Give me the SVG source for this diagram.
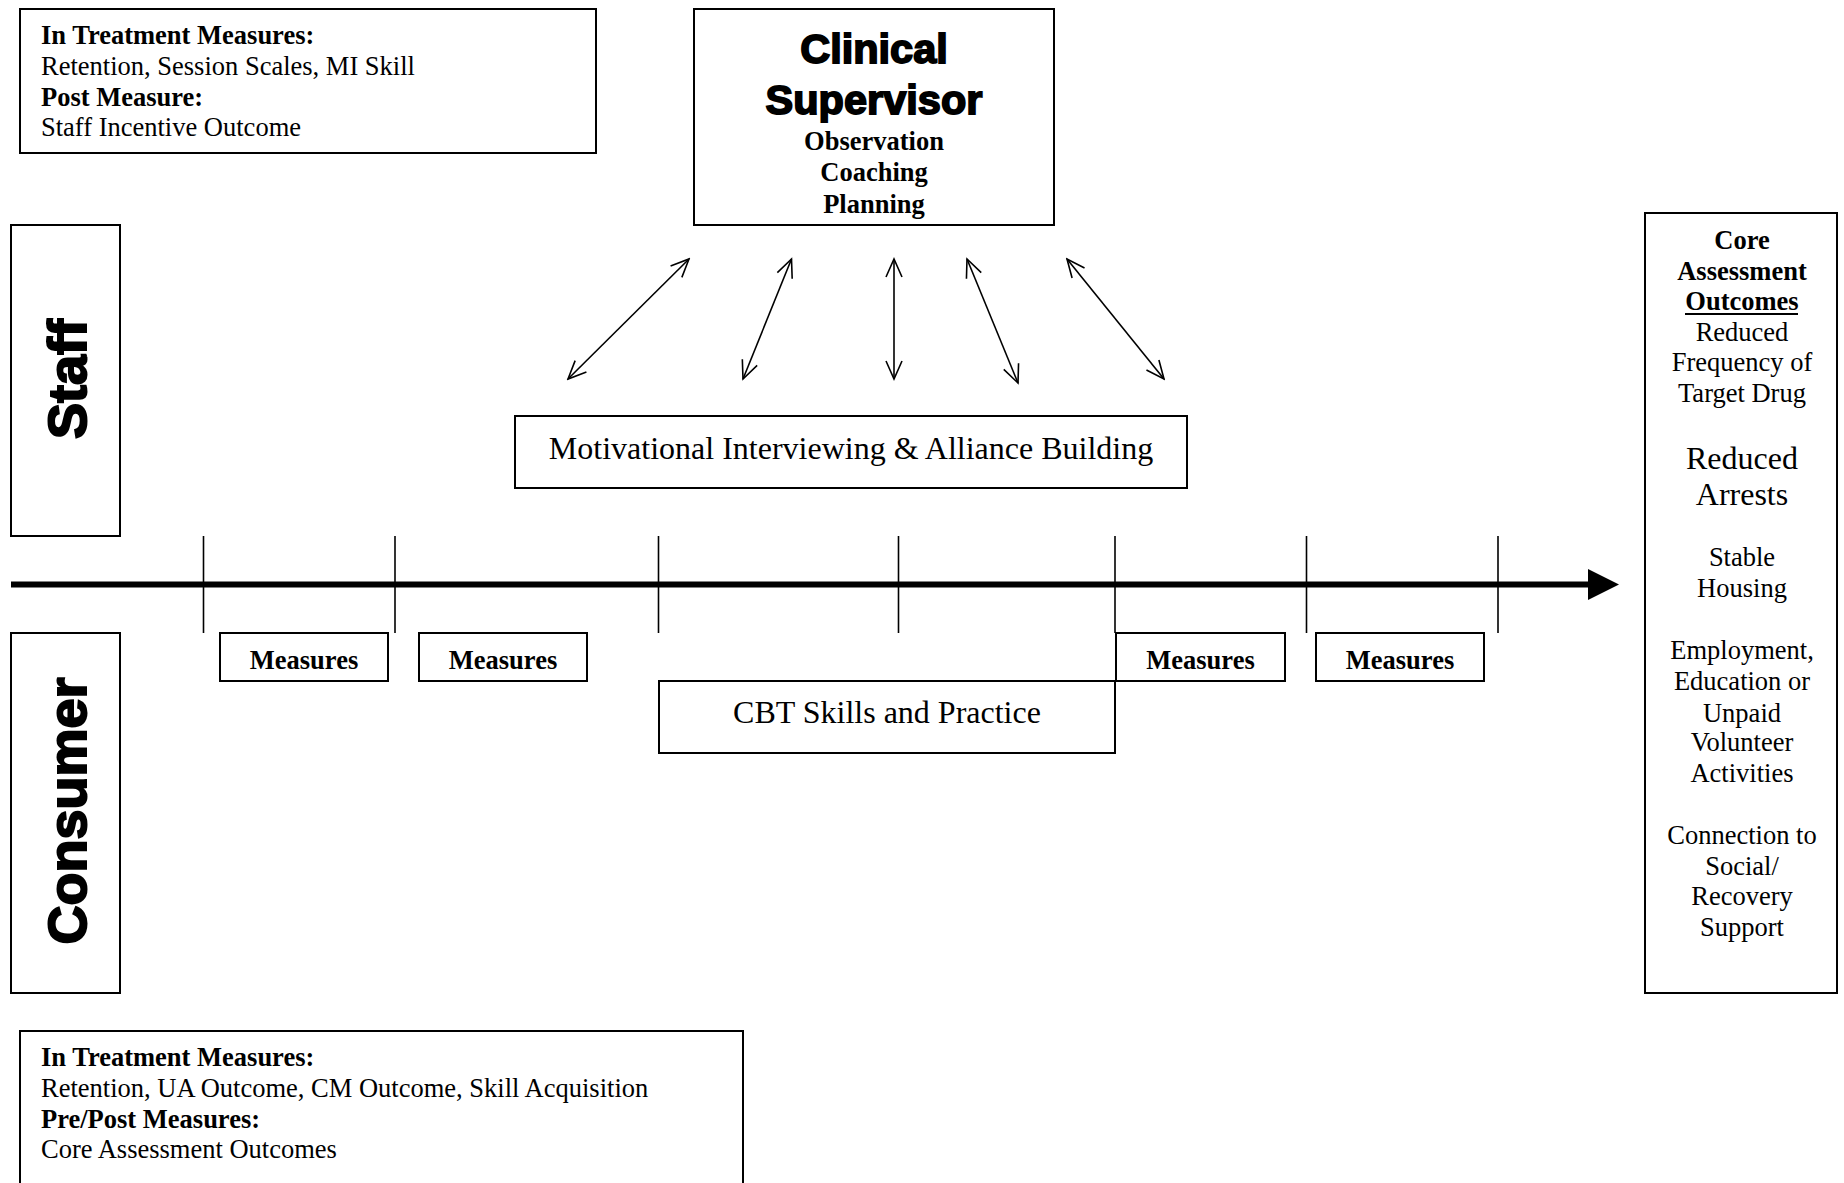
<svg xmlns="http://www.w3.org/2000/svg" width="1844" height="1183" viewBox="0 0 1844 1183">
<style>
.box{fill:#fff;stroke:#000;stroke-width:2}
.t{font-family:"Liberation Serif","Times New Roman",serif;fill:#000}
.r26{font-size:26.5px}
.b26{font-size:26.5px;font-weight:bold}
.r32{font-size:32px}
.blk{font-family:"Liberation Sans",Arial,sans-serif;font-weight:bold;fill:#000;stroke:#000}
.tick{stroke:#000;stroke-width:1.6}
.dbl{stroke:#000;stroke-width:1.6;fill:none;marker-start:url(#v);marker-end:url(#v)}
</style>
<defs>
<marker id="v" markerUnits="userSpaceOnUse" viewBox="-20 -10 22 20" refX="0" refY="0" markerWidth="22" markerHeight="20" orient="auto-start-reverse">
<path d="M-18,-8 L0,0 L-18,8" fill="none" stroke="#000" stroke-width="1.6"/>
</marker>
<clipPath id="csclip"><rect x="694" y="9" width="360" height="216"/></clipPath>
</defs>
<rect width="1844" height="1183" fill="#fff"/>

<g id="staff-measures">
<rect class="box" x="20" y="9" width="576" height="144"/>
<text class="t b26" x="41" y="44">In Treatment Measures:</text>
<text class="t r26" x="41" y="75">Retention, Session Scales, MI Skill</text>
<text class="t b26" x="41" y="105.5">Post Measure:</text>
<text class="t r26" x="41" y="136">Staff Incentive Outcome</text>
</g>

<g id="clinical-supervisor">
<rect class="box" x="694" y="9" width="360" height="216"/>
<g clip-path="url(#csclip)" text-anchor="middle">
<text class="blk" x="874" y="63" font-size="41.5" stroke-width="1.8">Clinical</text>
<text class="blk" x="874" y="114" font-size="41.5" stroke-width="1.8">Supervisor</text>
<text class="t b26" x="874" y="150">Observation</text>
<text class="t b26" x="874" y="181">Coaching</text>
<text class="t b26" x="874" y="213">Planning</text>
</g>
</g>

<g id="staff">
<rect class="box" x="11" y="225" width="109" height="311"/>
<text class="blk" transform="translate(86,379) rotate(-90)" text-anchor="middle" font-size="54" stroke-width="2">Staff</text>
</g>

<g id="consumer">
<rect class="box" x="11" y="633" width="109" height="360"/>
<text class="blk" transform="translate(86,811) rotate(-90)" text-anchor="middle" font-size="54" stroke-width="2">Consumer</text>
</g>

<g id="mi">
<rect class="box" x="515" y="416" width="672" height="72"/>
<text class="t r32" x="851" y="459" text-anchor="middle">Motivational Interviewing &amp; Alliance Building</text>
</g>

<g id="cbt">
<rect class="box" x="659" y="681" width="456" height="72"/>
<text class="t r32" x="887" y="723" text-anchor="middle">CBT Skills and Practice</text>
</g>

<g id="measures-1">
<rect class="box" x="220" y="633" width="168" height="48"/>
<text class="t b26" x="304" y="669" text-anchor="middle">Measures</text>
</g>
<g id="measures-2">
<rect class="box" x="419" y="633" width="168" height="48"/>
<text class="t b26" x="503" y="669" text-anchor="middle">Measures</text>
</g>
<g id="measures-3">
<rect class="box" x="1116" y="633" width="169" height="48"/>
<text class="t b26" x="1200.5" y="669" text-anchor="middle">Measures</text>
</g>
<g id="measures-4">
<rect class="box" x="1316" y="633" width="168" height="48"/>
<text class="t b26" x="1400" y="669" text-anchor="middle">Measures</text>
</g>

<g id="outcomes">
<rect class="box" x="1645" y="213" width="192" height="780"/>
<g text-anchor="middle">
<text class="t b26" x="1742" y="249">Core</text>
<text class="t b26" x="1742" y="279.5">Assessment</text>
<text class="t b26" x="1742" y="310">Outcomes</text>
<text class="t r26" x="1742" y="340.5">Reduced</text>
<text class="t r26" x="1742" y="371">Frequency of</text>
<text class="t r26" x="1742" y="401.5">Target Drug</text>
<text class="t r32" x="1742" y="468.5">Reduced</text>
<text class="t r32" x="1742" y="505">Arrests</text>
<text class="t r26" x="1742" y="566">Stable</text>
<text class="t r26" x="1742" y="597">Housing</text>
<text class="t r26" x="1742" y="659">Employment,</text>
<text class="t r26" x="1742" y="690">Education or</text>
<text class="t r26" x="1742" y="721.5">Unpaid</text>
<text class="t r26" x="1742" y="751">Volunteer</text>
<text class="t r26" x="1742" y="781.5">Activities</text>
<text class="t r26" x="1742" y="844">Connection to</text>
<text class="t r26" x="1742" y="874.5">Social/</text>
<text class="t r26" x="1742" y="905">Recovery</text>
<text class="t r26" x="1742" y="935.5">Support</text>
</g>
<line x1="1685" y1="314" x2="1798" y2="314" stroke="#000" stroke-width="2"/>
</g>

<g id="consumer-measures">
<rect class="box" x="20" y="1031" width="723" height="170"/>
<text class="t b26" x="41" y="1066">In Treatment Measures:</text>
<text class="t r26" x="41" y="1097">Retention, UA Outcome, CM Outcome, Skill Acquisition</text>
<text class="t b26" x="41" y="1127.5">Pre/Post Measures:</text>
<text class="t r26" x="41" y="1158">Core Assessment Outcomes</text>
</g>

<g id="connectors">
<line x1="11" y1="584.5" x2="1592" y2="584.5" stroke="#000" stroke-width="6"/>
<polygon points="1588,569 1619,584.5 1588,600" fill="#000"/>
<line class="tick" x1="203.5" y1="536" x2="203.5" y2="633"/>
<line class="tick" x1="395" y1="536" x2="395" y2="633"/>
<line class="tick" x1="658.5" y1="536" x2="658.5" y2="633"/>
<line class="tick" x1="898.5" y1="536" x2="898.5" y2="633"/>
<line class="tick" x1="1115" y1="536" x2="1115" y2="633"/>
<line class="tick" x1="1306.5" y1="536" x2="1306.5" y2="633"/>
<line class="tick" x1="1498" y1="536" x2="1498" y2="633"/>
<line class="dbl" x1="689" y1="259" x2="568" y2="379"/>
<line class="dbl" x1="791.5" y1="259" x2="743" y2="379"/>
<line class="dbl" x1="894" y1="259" x2="894" y2="379"/>
<line class="dbl" x1="967" y1="259" x2="1018" y2="383"/>
<line class="dbl" x1="1067" y1="259" x2="1164" y2="379"/>
</g>
</svg>
